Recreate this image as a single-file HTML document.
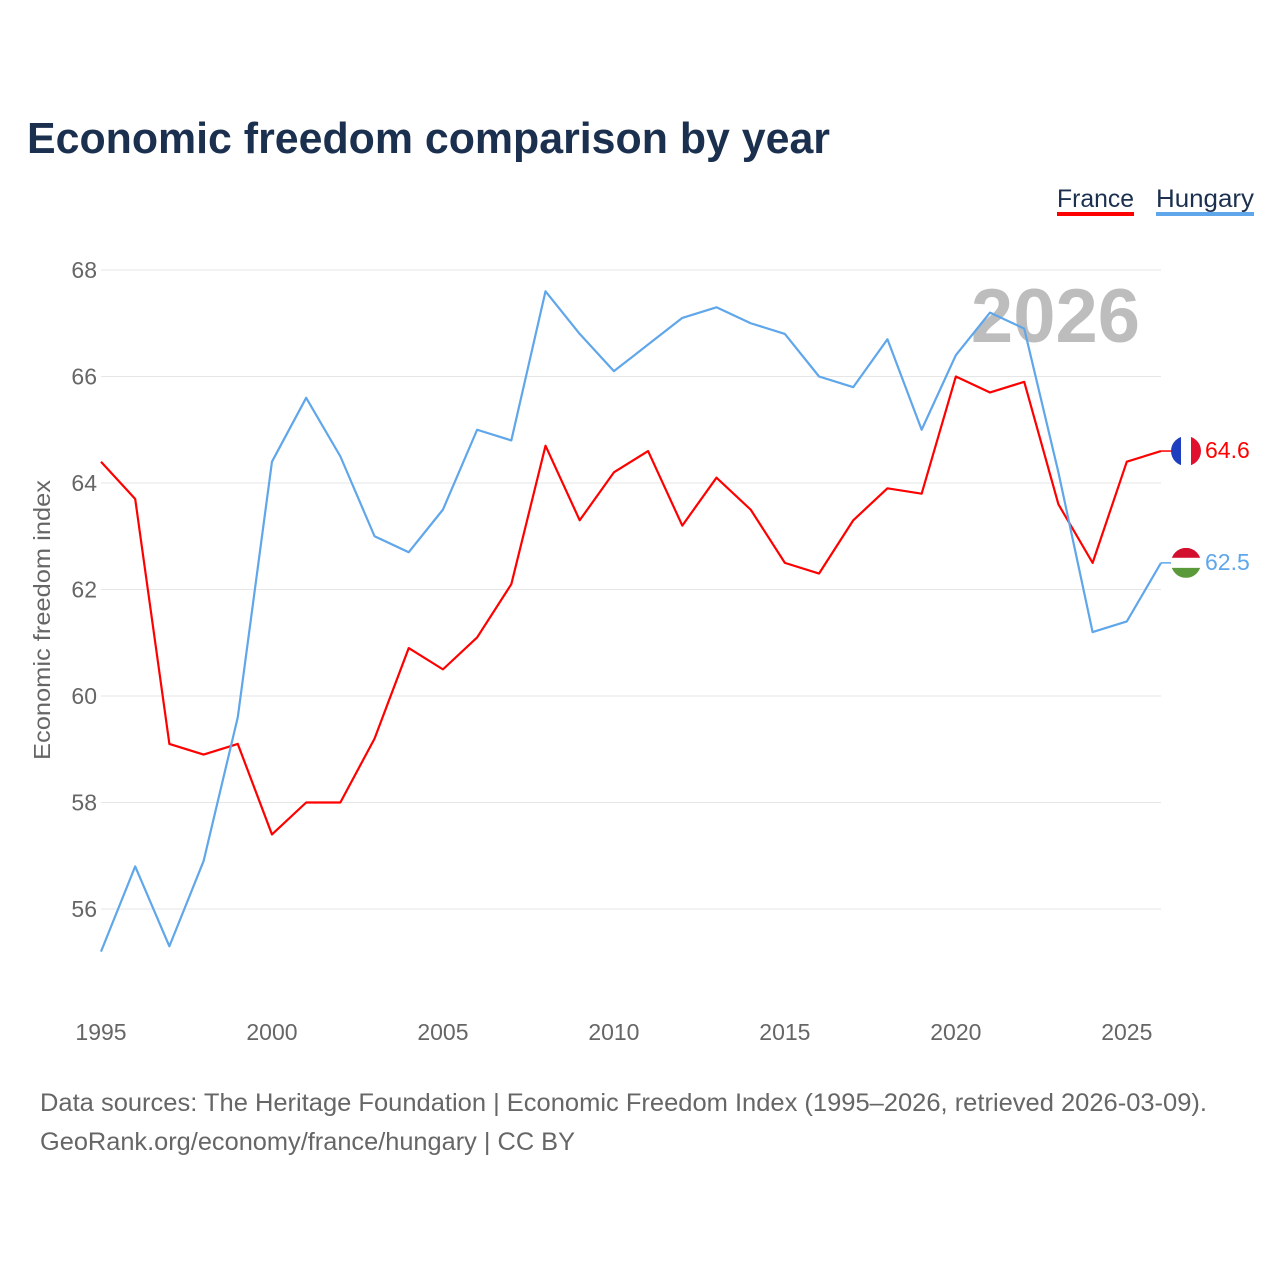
<!DOCTYPE html>
<html><head><meta charset="utf-8"><style>
body{margin:0;background:#fff;width:1280px;height:1280px;overflow:hidden;font-family:"Liberation Sans",sans-serif}
</style></head><body>
<svg id="chart" width="1280" height="1280" style="position:absolute;left:0;top:0">
<text x="27" y="153" font-size="44" font-weight="bold" fill="#1b2f4e" textLength="803" lengthAdjust="spacingAndGlyphs">Economic freedom comparison by year</text>
<g><text x="1057" y="207" font-size="25" fill="#1b2f4e" textLength="77" lengthAdjust="spacingAndGlyphs">France</text><rect x="1057" y="212" width="77" height="4" fill="#f00"/></g>
<g><text x="1156" y="207" font-size="25" fill="#1b2f4e" textLength="98" lengthAdjust="spacingAndGlyphs">Hungary</text><rect x="1156" y="212" width="98" height="4" fill="#5fa6ea"/></g>
<text x="1140" y="342" font-size="76" font-weight="bold" fill="#bdbdbd" text-anchor="end">2026</text>
<g id="grid"></g><g id="xt"></g><g id="lines"></g>
<text transform="translate(50,620) rotate(-90)" font-size="23" fill="#666" text-anchor="middle" textLength="280" lengthAdjust="spacingAndGlyphs">Economic freedom index</text>
<text x="40" y="1111" font-size="25" fill="#666" textLength="1167" lengthAdjust="spacingAndGlyphs">Data sources: The Heritage Foundation | Economic Freedom Index (1995–2026, retrieved 2026-03-09).</text>
<text x="40" y="1150" font-size="25" fill="#666" textLength="535" lengthAdjust="spacingAndGlyphs">GeoRank.org/economy/france/hungary | CC BY</text>
</svg>
<script>
const years=[1995,1996,1997,1998,1999,2000,2001,2002,2003,2004,2005,2006,2007,2008,2009,2010,2011,2012,2013,2014,2015,2016,2017,2018,2019,2020,2021,2022,2023,2024,2025,2026];
const france=[64.4,63.7,59.1,58.9,59.1,57.4,58.0,58.0,59.2,60.9,60.5,61.1,62.1,64.7,63.3,64.2,64.6,63.2,64.1,63.5,62.5,62.3,63.3,63.9,63.8,66.0,65.7,65.9,63.6,62.5,64.4,64.6];
const hungary=[55.2,56.8,55.3,56.9,59.6,64.4,65.6,64.5,63.0,62.7,63.5,65.0,64.8,67.6,66.8,66.1,66.6,67.1,67.3,67.0,66.8,66.0,65.8,66.7,65.0,66.4,67.2,66.9,64.2,61.2,61.4,62.5];
const yTicks=[56,58,60,62,64,66,68];
const xTicks=[1995,2000,2005,2010,2015,2020,2025];
const NS="http://www.w3.org/2000/svg";
const X=y=>101+(y-1995)*(1161-101)/31;
const Y=v=>909-(v-56)*(909-270)/12;
function mk(t,a,p){const e=document.createElementNS(NS,t);for(const k in a)e.setAttribute(k,a[k]);p.appendChild(e);return e;}
const grid=document.getElementById('grid');
yTicks.forEach(v=>{
 const l=mk('line',{x1:101,x2:1161,y1:Y(v),y2:Y(v),stroke:'#e6e6e6','stroke-width':1},grid);
 
 
 const t=mk('text',{x:97,y:Y(v)+8,'font-size':23,fill:'#666','text-anchor':'end'},grid);t.textContent=v;
 
 
});
const xt=document.getElementById('xt');
xTicks.forEach(v=>{
 const t=mk('text',{x:X(v),y:1040,'font-size':23,fill:'#666','text-anchor':'middle'},xt);t.textContent=v;
 
 
});
const lines=document.getElementById('lines');
function series(d,c,name){
 const p=mk('polyline',{points:d.map((v,i)=>X(years[i])+','+Y(v)).join(' '),fill:'none',stroke:c,'stroke-width':2.2,'stroke-linejoin':'round'},lines);
 
 
 const last=d[d.length-1],ly=Y(last);
 const g=mk('g',{},lines);
 
 
 mk('line',{x1:X(2026),x2:1176,y1:ly,y2:ly,stroke:c,'stroke-width':1.5},g);
 if(name==='france'){
  mk('rect',{x:1171,y:ly-15,width:10,height:30,fill:'#1d3fbf'},g);
  mk('rect',{x:1181,y:ly-15,width:10,height:30,fill:'#fff'},g);
  mk('rect',{x:1191,y:ly-15,width:10,height:30,fill:'#e0102e'},g);
 }else{
  mk('rect',{x:1171,y:ly-15,width:30,height:10,fill:'#d2102e'},g);
  mk('rect',{x:1171,y:ly-5,width:30,height:10,fill:'#fff'},g);
  mk('rect',{x:1171,y:ly+5,width:30,height:10,fill:'#5a9a3a'},g);
 }
 const cp=mk('clipPath',{id:'c'+name},g);mk('circle',{cx:1186,cy:ly,r:15},cp);
 Array.from(g.querySelectorAll('rect')).forEach(r=>r.setAttribute('clip-path','url(#c'+name+')'));
 const t=mk('text',{x:1205,y:ly+7,'font-size':23,fill:c},g);t.textContent=last.toFixed(1);
}
series(france,'#f00','france');
series(hungary,'#5fa6ea','hungary');
</script>
</body></html>
